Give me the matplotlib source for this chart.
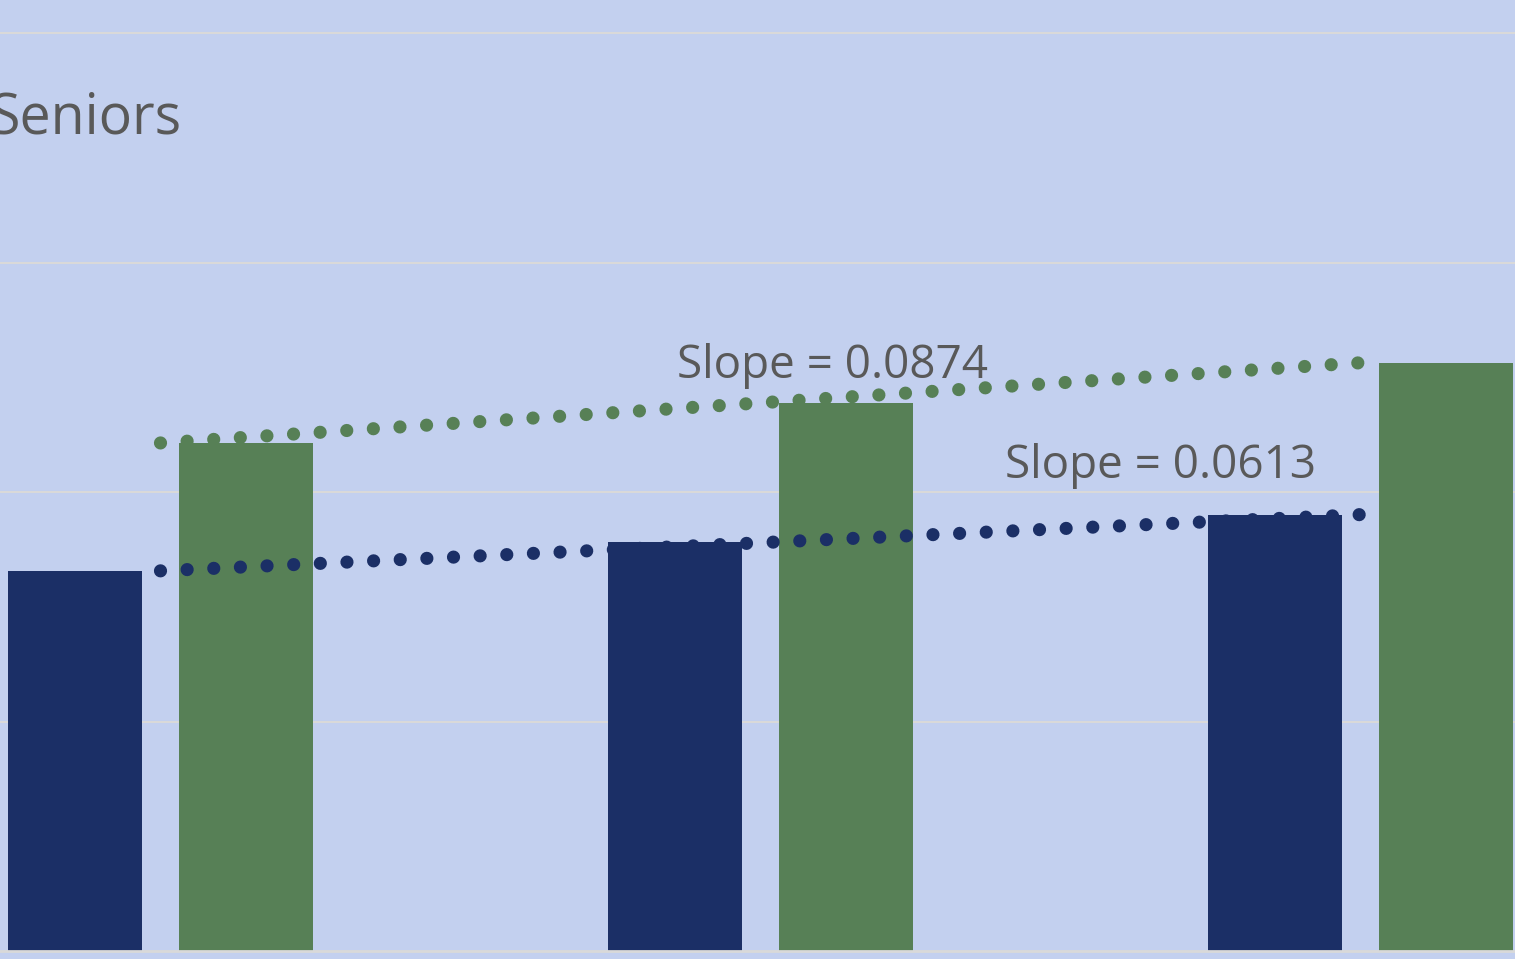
import matplotlib
matplotlib.use('Agg')
import matplotlib.pyplot as plt
import numpy as np

# group values (two series per group)
groups = [0, 1, 2]
navy_vals = [0.828, 0.890, 0.9506]
green_vals = [1.107, 1.194, 1.2818]
title_text = 'Seniors'

bg = '#C3D0EF'
navy = '#1B2F66'
green = '#578056'
grid_c = '#D9D9D9'
text_c = '#595959'

plt.rcParams['font.family'] = ['Open Sans', 'DejaVu Sans']

fig = plt.figure(figsize=(15.15, 9.59), dpi=100)
fig.patch.set_facecolor(bg)
ax = fig.add_axes([0, 0, 1, 1])
ax.set_facecolor(bg)

x = np.array(groups, dtype=float)
w = 0.2233
off = 0.1425

ax.bar(x - off, navy_vals, width=w, color=navy, zorder=3)
ax.bar(x + off, green_vals, width=w, color=green, zorder=3)

# linear trendlines through group centres
for vals, col in [(navy_vals, navy), (green_vals, green)]:
    coef = np.polyfit(x, vals, 1)
    fit = np.poly1d(coef)
    ax.plot(x, fit(x), color=col, lw=9.5, linestyle=(0, (0.001, 2.02)),
            dash_capstyle='round', zorder=4)

g_slope = np.polyfit(x, green_vals, 1)[0]
n_slope = np.polyfit(x, navy_vals, 1)[0]
ax.text(1.12, 1.249, f'Slope = {g_slope:.4f}', ha='center', va='baseline',
        fontsize=33, color=text_c, zorder=5)
ax.text(1.666, 1.031, f'Slope = {n_slope:.4f}', ha='center', va='baseline',
        fontsize=33, color=text_c, zorder=5)

ax.text(0.035, 1.782, title_text, ha='right', va='baseline',
        fontsize=40, color=text_c)

for gy in [0.5, 1.0, 1.5, 2.0]:
    ax.axhline(gy, color=grid_c, lw=1.5, zorder=1)
ax.axhline(0, color=grid_c, lw=2, zorder=5)

ax.set_xlim(-0.2674, 2.2567)
ax.set_ylim(-0.0174, 2.0719)
ax.axis('off')

fig.savefig('out.png', dpi=100, facecolor=bg)
